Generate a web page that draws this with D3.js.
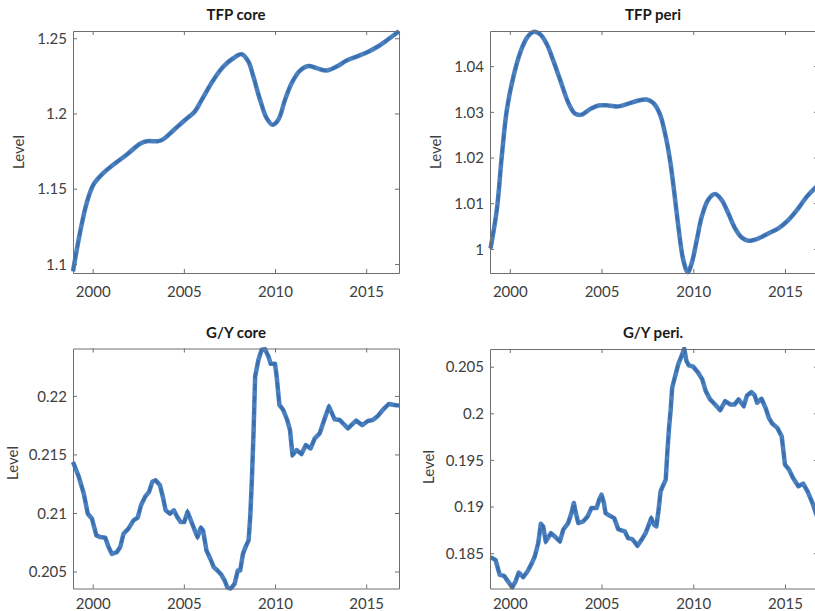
<!DOCTYPE html>
<html>
<head>
<meta charset="utf-8">
<script src="https://cdn.jsdelivr.net/npm/d3@7"></script>
<style>
	html, body { margin:0; padding:0; background:#fff; overflow:hidden; }
	svg text { font-family: Lato, "Open Sans", sans-serif; }
	.tick text { fill:#404040; font-size:15px; }
	.title { fill:#1a1a1a; font-size:15px; font-weight:bold; }
	.ylabel { fill:#404040; font-size:15px; }
</style>
</head>
<body>
<div id="chart"></div>
<script>
// x ticks shared by all panels
var yearTicks = [2000, 2005, 2010, 2015];
var yearLabels = ['2000', '2005', '2010', '2015'];

// TFP core
var tfpCoreYears = [1998.92, 1999.3, 1999.67, 2000.04, 2000.58, 2001.13, 2001.86, 2002.6, 2002.96, 2003.6, 2003.88,
	2004.42, 2004.97, 2005.6, 2005.98, 2006.62, 2007.17, 2007.71, 2008.17, 2008.54, 2008.81, 2009.18, 2009.54,
	2009.87, 2010.18, 2010.55, 2010.91, 2011.37, 2011.83, 2012.28, 2012.83, 2013.38, 2013.93, 2014.48, 2015.03,
	2015.57, 2016.12, 2016.8];
var tfpCoreValues = [1.0951, 1.1206, 1.1405, 1.1527, 1.1604, 1.1659, 1.1726, 1.1799, 1.1816, 1.1816, 1.1830,
	1.1887, 1.1947, 1.2013, 1.2091, 1.2223, 1.2312, 1.2367, 1.2394, 1.2345, 1.2246, 1.2091, 1.1969,
	1.1925, 1.1958, 1.2091, 1.2201, 1.2285, 1.2316, 1.2301, 1.2285, 1.2312, 1.2352, 1.2378, 1.2405,
	1.2440, 1.2485, 1.2546];
var tfpCoreTicks = [1.1, 1.15, 1.2, 1.25];
var tfpCoreLabels = ['1.1', '1.15', '1.2', '1.25'];

// TFP peri
var tfpPeriYears = [1998.95, 1999.29, 1999.56, 1999.84, 2000.2, 2000.56, 2000.93, 2001.29, 2001.65, 2002.02, 2002.38,
	2002.83, 2003.2, 2003.56, 2003.92, 2004.38, 2004.83, 2005.37, 2005.92, 2006.46, 2007.01, 2007.46, 2007.83,
	2008.19, 2008.46, 2008.73, 2008.97, 2009.19, 2009.46, 2009.7, 2009.91, 2010.19, 2010.46, 2010.82, 2011.19,
	2011.55, 2011.91, 2012.28, 2012.64, 2013.0, 2013.55, 2014.09, 2014.64, 2015.18, 2015.73, 2016.18, 2016.63, 2016.82];
var tfpPeriValues = [1.0001, 1.0085, 1.0202, 1.0305, 1.0378, 1.0429, 1.0462, 1.0475, 1.0470, 1.0448, 1.0411,
	1.0360, 1.0319, 1.0296, 1.0294, 1.0306, 1.0314, 1.0314, 1.0312, 1.0318, 1.0325, 1.0327, 1.0319,
	1.0294, 1.0253, 1.0195, 1.0122, 1.0048, 0.9975, 0.9949, 0.9968, 1.0019, 1.0070, 1.0108, 1.0120,
	1.0107, 1.0078, 1.0045, 1.0025, 1.0018, 1.0023, 1.0034, 1.0045, 1.0063, 1.0089, 1.0114, 1.0133, 1.0140];
var tfpPeriTicks = [1, 1.01, 1.02, 1.03, 1.04];
var tfpPeriLabels = ['1', '1.01', '1.02', '1.03', '1.04'];

// G/Y core
var gyCoreYears = [1998.92, 1999.24, 1999.51, 1999.73, 1999.96, 2000.2, 2000.42, 2000.69, 2000.87, 2001.05, 2001.33,
	2001.51, 2001.69, 2001.96, 2002.24, 2002.47, 2002.65, 2002.87, 2003.09, 2003.27, 2003.45, 2003.69, 2003.87,
	2004.0, 2004.24, 2004.45, 2004.64, 2004.82, 2005.02, 2005.2, 2005.42, 2005.6, 2005.75, 2005.93, 2006.05,
	2006.24, 2006.45, 2006.64, 2006.84, 2007.05, 2007.24, 2007.38, 2007.56, 2007.78, 2007.96, 2008.09, 2008.24,
	2008.42, 2008.55, 2008.64, 2008.73, 2008.82, 2008.91, 2009.09, 2009.27, 2009.45, 2009.64, 2009.76, 2010.0,
	2010.09, 2010.24, 2010.45, 2010.67, 2010.82, 2010.96, 2011.18, 2011.45, 2011.69, 2011.95, 2012.18, 2012.45,
	2012.73, 2012.96, 2013.27, 2013.55, 2014.0, 2014.45, 2014.78, 2015.09, 2015.36, 2015.64, 2015.91, 2016.24,
	2016.55, 2016.8];
var gyCoreValues = [0.21435, 0.21309, 0.21166, 0.20994, 0.20951, 0.20809, 0.20794, 0.20789, 0.20709, 0.20651, 0.20666,
	0.20709, 0.20823, 0.20866, 0.20937, 0.2096, 0.21066, 0.21137, 0.2118, 0.21266, 0.2128, 0.21237, 0.21123,
	0.21023, 0.20994, 0.21023, 0.20966, 0.20923, 0.20923, 0.21009, 0.20923, 0.20851, 0.20794, 0.20874, 0.20851,
	0.2068, 0.20609, 0.20537, 0.20509, 0.20474, 0.20423, 0.20366, 0.20351, 0.20394, 0.20509, 0.20509, 0.20651,
	0.20723, 0.20766, 0.20966, 0.2128, 0.2168, 0.22166, 0.22309, 0.22394, 0.224, 0.22337, 0.22274, 0.22274,
	0.22166, 0.21923, 0.2188, 0.21794, 0.21709, 0.21494, 0.21537, 0.21503, 0.2158, 0.21551, 0.21637, 0.2168,
	0.21809, 0.21909, 0.218, 0.21794, 0.21723, 0.21789, 0.21751, 0.21786, 0.21794, 0.21829, 0.2188, 0.21931,
	0.21923, 0.21917];
var gyCoreTicks = [0.205, 0.21, 0.215, 0.22];
var gyCoreLabels = ['0.205', '0.21', '0.215', '0.22'];

// G/Y peri.
var gyPeriYears = [1998.95, 1999.22, 1999.45, 1999.69, 1999.91, 2000.13, 2000.31, 2000.49, 2000.73, 2000.96, 2001.18,
	2001.36, 2001.55, 2001.69, 2001.82, 2001.96, 2002.24, 2002.45, 2002.73, 2002.91, 2003.18, 2003.36, 2003.49,
	2003.6, 2003.73, 2004.0, 2004.24, 2004.45, 2004.73, 2004.87, 2005.0, 2005.13, 2005.22, 2005.45, 2005.69,
	2005.91, 2006.09, 2006.27, 2006.45, 2006.67, 2006.82, 2006.96, 2007.18, 2007.4, 2007.53, 2007.71, 2007.86,
	2007.99, 2008.11, 2008.22, 2008.35, 2008.5, 2008.59, 2008.68, 2008.77, 2008.85, 2008.99, 2009.18, 2009.36,
	2009.51, 2009.63, 2009.76, 2010.0, 2010.27, 2010.49, 2010.68, 2010.92, 2011.19, 2011.47, 2011.74, 2012.01,
	2012.25, 2012.47, 2012.75, 2012.93, 2013.17, 2013.35, 2013.48, 2013.72, 2013.94, 2014.12, 2014.3, 2014.58,
	2014.82, 2015.0, 2015.22, 2015.44, 2015.73, 2015.99, 2016.23, 2016.5, 2016.68, 2016.82];
var gyPeriValues = [0.18457, 0.18428, 0.18267, 0.18256, 0.18195, 0.18134, 0.18195, 0.18292, 0.18242, 0.18303, 0.18385,
	0.18464, 0.18608, 0.18815, 0.18787, 0.18625, 0.18715, 0.18679, 0.18625, 0.18751, 0.18823, 0.1893, 0.19038,
	0.1893, 0.18823, 0.18841, 0.18894, 0.18984, 0.18984, 0.19073, 0.19127, 0.19038, 0.1893, 0.18901, 0.18876,
	0.18758, 0.18744, 0.18733, 0.18661, 0.18651, 0.18615, 0.18579, 0.18643, 0.18715, 0.1878, 0.18876, 0.18805,
	0.18787, 0.18966, 0.19163, 0.19224, 0.19289, 0.19593, 0.19844, 0.20041, 0.20274, 0.20382, 0.20525, 0.20615,
	0.20694, 0.20561, 0.20514, 0.205, 0.20435, 0.20364, 0.20238, 0.20149, 0.20095, 0.20034, 0.20131, 0.20095,
	0.20095, 0.20149, 0.20077, 0.20192, 0.20228, 0.20192, 0.20113, 0.20156, 0.20059, 0.19952, 0.19891, 0.19844,
	0.19754, 0.1945, 0.19396, 0.19306, 0.19217, 0.19246, 0.19163, 0.19038, 0.1893, 0.1886];
var gyPeriTicks = [0.185, 0.19, 0.195, 0.2, 0.205];
var gyPeriLabels = ['0.185', '0.19', '0.195', '0.2', '0.205'];

var W = 815, H = 611;

var svg = d3.select('#chart').append('svg')
	.attr('width', W)
	.attr('height', H);

// panel frames
var panels = [
	{title:'TFP core', x:73, y:31, w:326, h:242, ydom:[1.094, 1.2548], years:tfpCoreYears, vals:tfpCoreValues,
		ticks:tfpCoreTicks, labels:tfpCoreLabels, smooth:true, titleY:20, tickY:297, labelX:19, labelY:152},
	{title:'TFP peri', x:490, y:31, w:328, h:242, ydom:[0.99473, 1.0477], years:tfpPeriYears, vals:tfpPeriValues,
		ticks:tfpPeriTicks, labels:tfpPeriLabels, smooth:true, titleY:20, tickY:297, labelX:436, labelY:152},
	{title:'G/Y core', x:73, y:348.5, w:326, h:240, ydom:[0.20355, 0.22405], years:gyCoreYears, vals:gyCoreValues,
		ticks:gyCoreTicks, labels:gyCoreLabels, smooth:false, titleY:338, tickY:609, labelX:12.5, labelY:463},
	{title:'G/Y peri.', x:490, y:349, w:328, h:239.5, ydom:[0.18121, 0.2069], years:gyPeriYears, vals:gyPeriValues,
		ticks:gyPeriTicks, labels:gyPeriLabels, smooth:false, titleY:338, tickY:609, labelX:429, labelY:467}
];

var xDomain = [1998.92, 2016.8];
var axisColor = '#6e6e6e';

function drawPanel(p){
	var g = svg.append('g').attr('transform', 'translate(' + p.x + ',' + p.y + ')');
	var x = d3.scaleLinear().domain(xDomain).range([0, p.w]);
	var y = d3.scaleLinear().domain(p.ydom).range([p.h, 0]);

	// clip to the box
	var cid = 'clip-' + p.title.replace(/[^a-z]/gi, '');
	g.append('clipPath').attr('id', cid)
		.append('rect').attr('x', -2).attr('y', -2).attr('width', p.w + 4).attr('height', p.h + 4);

	var data = p.years.map(function(d, i){ return [d, p.vals[i]]; });
	var line = d3.line()
		.x(function(d){ return x(d[0]); })
		.y(function(d){ return y(d[1]); })
		.curve(p.smooth ? d3.curveCatmullRom.alpha(0.5) : d3.curveLinear);

	var lines = g.append('g').attr('clip-path', 'url(#' + cid + ')');
	lines.append('path').datum(data)
		.attr('d', line)
		.attr('fill', 'none')
		.attr('stroke', '#4a7fc0')
		.attr('stroke-width', 4.5)
		.attr('stroke-linejoin', 'round');
	lines.append('path').datum(data)
		.attr('d', line)
		.attr('fill', 'none')
		.attr('stroke', '#3a6eac')
		.attr('stroke-width', 2.6)
		.attr('stroke-dasharray', '7,5');

	// axes, ticks pointing inward on all four sides
	var bottom = g.append('g').attr('transform', 'translate(0,' + p.h + ')')
		.call(d3.axisBottom(x).tickValues(yearTicks).tickSize(-4).tickSizeOuter(0)
			.tickFormat(function(d, i){ return yearLabels[i]; }));
	bottom.selectAll('text').attr('y', null).attr('dy', null)
		.attr('transform', 'translate(0,' + (p.tickY - p.y - p.h) + ')');
	g.append('g')
		.call(d3.axisTop(x).tickValues(yearTicks).tickSize(-4).tickSizeOuter(0).tickFormat(''));
	var left = g.append('g')
		.call(d3.axisLeft(y).tickValues(p.ticks).tickSize(-4).tickSizeOuter(0)
			.tickFormat(function(d, i){ return p.labels[i]; }));
	left.selectAll('text').attr('x', -6).attr('dy', '0.35em');
	g.append('g').attr('transform', 'translate(' + p.w + ',0)')
		.call(d3.axisRight(y).tickValues(p.ticks).tickSize(-4).tickSizeOuter(0).tickFormat(''));

	g.selectAll('.domain').attr('stroke', axisColor);
	g.selectAll('.tick line').attr('stroke', axisColor);
	g.selectAll('.tick text').style('font-family', 'Lato, sans-serif');

	svg.append('text').attr('class', 'title')
		.attr('x', p.x + 326 / 2).attr('y', p.titleY)
		.attr('text-anchor', 'middle')
		.text(p.title);

	svg.append('text').attr('class', 'ylabel')
		.attr('transform', 'translate(' + p.labelX + ',' + p.labelY + ') rotate(-90)')
		.attr('text-anchor', 'middle')
		.attr('dy', '0.35em')
		.text('Level');
}

panels.forEach(drawPanel);
</script>
</body>
</html>
